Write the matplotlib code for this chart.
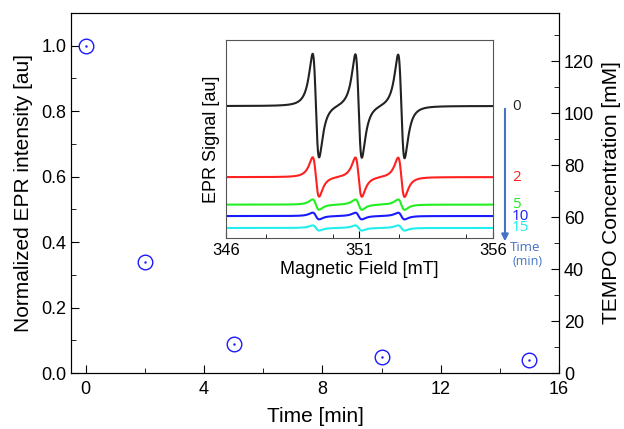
import numpy as np
import matplotlib
matplotlib.use("Agg")
import matplotlib.pyplot as plt
from matplotlib.ticker import MultipleLocator
import matplotlib.transforms as mtransforms

plt.rcParams['font.family'] = ['Liberation Sans', 'DejaVu Sans']

# main data: normalized EPR intensity vs time
time_min = [0, 2, 5, 10, 15]
epr_norm = [1.0, 0.34, 0.09, 0.048, 0.04]
tempo_full = 126.0  # mM at normalized 1.0

# inset spectra (nitroxide triplet)
line_centres = [349.37, 350.97, 352.57]  # mT
line_width = 0.21                        # mT, lorentzian half width
trace_times = ['0', '2', '5', '10', '15']
trace_amp = [1.0, 0.38, 0.10, 0.065, 0.05]
trace_offset = [0.0, -1.37, -1.90, -2.12, -2.35]
trace_colors = ['#222222', '#ff2020', '#22ee22', '#1a1aff', '#22eeee']

fig = plt.figure(figsize=(6.24, 4.29), dpi=100)
ax = fig.add_axes([0.1138, 0.1305, 0.782, 0.8392])

ax.plot(time_min, epr_norm, 'o', mfc='none', mec='#1a1aff', ms=10.5, mew=1.0)
ax.plot(time_min, epr_norm, '.', color='#1a1aff', ms=1.5)
ax.set_xlim(-0.5, 16)
ax.set_ylim(0, 1.1)
ax.xaxis.set_major_locator(MultipleLocator(4))
ax.xaxis.set_minor_locator(MultipleLocator(2))
ax.yaxis.set_major_locator(MultipleLocator(0.2))
ax.yaxis.set_minor_locator(MultipleLocator(0.1))
ax.tick_params(which='both', direction='in', labelsize=13, top=False, right=False)
ax.tick_params(axis='x', pad=6)
ax.tick_params(which='major', length=6)
ax.tick_params(which='minor', length=3.5)
ax.set_xlabel('Time [min]', fontsize=15, labelpad=6)
ax.set_ylabel('Normalized EPR intensity [au]', fontsize=15, labelpad=6)

ax2 = ax.twinx()
ax2.set_ylim(0, 1.1 * tempo_full)
ax2.yaxis.set_major_locator(MultipleLocator(20))
ax2.yaxis.set_minor_locator(MultipleLocator(10))
ax2.tick_params(which='both', direction='in', labelsize=13)
ax2.tick_params(which='major', length=6)
ax2.tick_params(which='minor', length=3.5)
ax2.set_ylabel('TEMPO Concentration [mM]', fontsize=15, labelpad=6)

# inset
axi = fig.add_axes([0.362, 0.445, 0.428, 0.4615])
field = np.linspace(346, 356, 2000)
def lor_deriv(x, x0, g):
    u = x - x0
    return -u / (u ** 2 + g ** 2) ** 2
peak = lor_deriv(-line_width / np.sqrt(3), 0, line_width)
shape = sum(lor_deriv(field, c, line_width) for c in line_centres) / peak
for a, off, col in zip(trace_amp, trace_offset, trace_colors):
    axi.plot(field, off + a * shape, color=col, lw=1.5)
axi.set_xlim(346, 356)
axi.set_ylim(-2.545, 1.27)
axi.set_xticks([346, 351, 356])
axi.xaxis.set_minor_locator(MultipleLocator(2.5))
axi.set_yticks([])
axi.tick_params(which='both', direction='in', labelsize=12, top=False)
axi.tick_params(which='major', length=5)
axi.tick_params(which='minor', length=3)
for s in axi.spines.values():
    s.set_color('#555555')
axi.set_xlabel('Magnetic Field [mT]', fontsize=13, labelpad=2)
axi.set_ylabel('EPR Signal [au]', fontsize=13, labelpad=4)

trans = mtransforms.blended_transform_factory(axi.transAxes, axi.transData)
for t, off, col in zip(trace_times, trace_offset, trace_colors):
    axi.text(1.071, off, t, color=col, fontsize=11, ha='left', va='center',
             transform=trans, family=['Open Sans', 'DejaVu Sans'])
axi.annotate('', xy=(1.045, -0.03), xytext=(1.045, 0.667),
             xycoords='axes fraction', textcoords='axes fraction',
             arrowprops=dict(arrowstyle='-|>', color='#4472c4', lw=1.5,
                             mutation_scale=10))
axi.text(1.065, -0.05, 'Time', color='#4472c4', fontsize=9.5, ha='left',
         va='center', transform=axi.transAxes, family=['Open Sans', 'DejaVu Sans'])
axi.text(1.075, -0.12, '(min)', color='#4472c4', fontsize=9, ha='left',
         va='center', transform=axi.transAxes, family=['Open Sans', 'DejaVu Sans'])

fig.savefig('out.png', dpi=100)
